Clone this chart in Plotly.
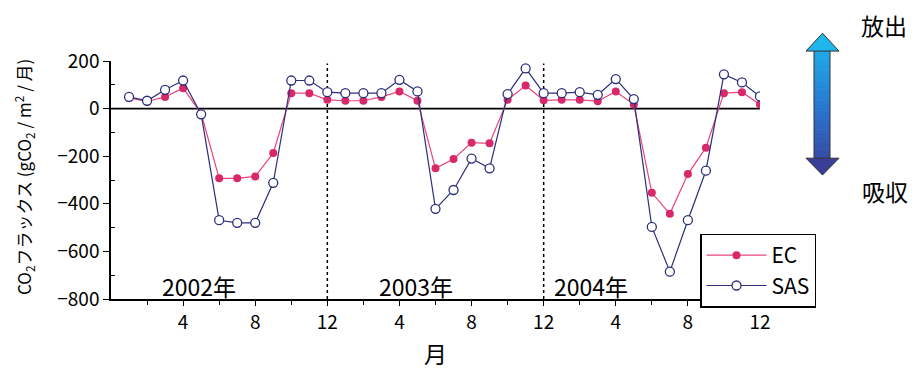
import plotly.graph_objects as go

months = list(range(1, 37))
ec = [45, 30, 49, 86, -20, -293, -293, -285, -187, 65, 65, 37,
      33, 33, 49, 72, 33, -251, -212, -143, -146, 37, 97, 35,
      37, 37, 31, 72, 17, -354, -442, -275, -164, 65, 69, 17]
sas = [49, 33, 79, 118, -24, -469, -480, -480, -312, 118, 118, 69,
       65, 65, 65, 121, 72, -421, -342, -210, -251, 61, 169, 65,
       65, 69, 58, 124, 40, -497, -685, -469, -261, 144, 110, 51]
xtick_vals = [4, 8, 12, 16, 20, 24, 28, 32, 36]
xtick_text = ["4", "8", "12", "4", "8", "12", "4", "8", "12"]
year_labels = ["2002年", "2003年", "2004年"]
year_pos = [4.9, 16.9, 26.6]
year_sep = [12, 24]

OFF = 8  # page body margin
W, H = 921 - OFF, 376 - OFF
L, R, T, B = 111, 760, 61, 301  # plot area in screen pixels

def px(x):
    return (x - L) / (R - L)

def py(y):
    return (B - y) / (B - T)

FONT = "Noto Sans CJK JP"

fig = go.Figure()
fig.add_trace(go.Scatter(
    x=months, y=ec, name="EC", mode="lines+markers",
    line=dict(color="#e8457e", width=1.2),
    marker=dict(color="#d8286a", size=8, symbol="circle"),
))
fig.add_trace(go.Scatter(
    x=months, y=sas, name="SAS", mode="lines+markers",
    line=dict(color="#2b2f7c", width=1.2),
    marker=dict(color="white", size=9, symbol="circle",
                line=dict(color="#2b2f7c", width=1.3)),
))

shapes = []
shapes.append(dict(type="line", xref="x", yref="y", x0=0, x1=36, y0=0, y1=0,
                   line=dict(color="black", width=1.8), layer="below"))
for s in year_sep:
    shapes.append(dict(type="line", xref="x", yref="y", x0=s, x1=s, y0=-800, y1=190,
                       line=dict(color="black", width=1.5, dash="dot"), layer="below"))

# gradient double arrow (decoration)
def lerp(c1, c2, t):
    return "rgb(%d,%d,%d)" % tuple(round(a + (b - a) * t) for a, b in zip(c1, c2))

top_c = (30, 185, 238)
mid_c = (40, 120, 210)
bot_c = (60, 60, 150)
def grad(t):
    if t < 0.5:
        return lerp(top_c, mid_c, t / 0.5)
    return lerp(mid_c, bot_c, (t - 0.5) / 0.5)

y_top, y_bot = 33, 176
hx0, hx1, sx0, sx1 = 806, 839, 814, 830
h_top_end, h_bot_start = 50, 160
n = 40
for i in range(n):
    y0 = h_top_end + (h_bot_start - h_top_end) * i / n
    y1 = h_top_end + (h_bot_start - h_top_end) * (i + 1) / n + 0.6
    t = (y0 - y_top) / (y_bot - y_top)
    shapes.append(dict(type="rect", xref="paper", yref="paper",
                       x0=px(sx0), x1=px(sx1), y0=py(y0), y1=py(y1),
                       fillcolor=grad(t), line=dict(width=0)))
cx = (hx0 + hx1) / 2
shapes.append(dict(type="path", xref="paper", yref="paper",
                   path="M %f %f L %f %f L %f %f Z" % (px(cx), py(y_top), px(hx1), py(h_top_end + 1), px(hx0), py(h_top_end + 1)),
                   fillcolor=grad(0.02), line=dict(color="#333", width=1)))
shapes.append(dict(type="path", xref="paper", yref="paper",
                   path="M %f %f L %f %f L %f %f Z" % (px(cx), py(y_bot), px(hx1), py(h_bot_start - 1), px(hx0), py(h_bot_start - 1)),
                   fillcolor=grad(0.98), line=dict(color="#333", width=1)))
for xx in (sx0, sx1):
    shapes.append(dict(type="line", xref="paper", yref="paper",
                       x0=px(xx), x1=px(xx), y0=py(h_top_end + 1), y1=py(h_bot_start - 1),
                       line=dict(color="#333", width=1)))

annotations = []
for lab, pos in zip(year_labels, year_pos):
    annotations.append(dict(x=pos, y=-746, xref="x", yref="y", text=lab, showarrow=False,
                            xanchor="center", yanchor="middle",
                            font=dict(family=FONT, size=23, color="black")))
annotations.append(dict(x=px(884), y=py(25), xref="paper", yref="paper", text="放出",
                        xanchor="center", yanchor="middle",
                        showarrow=False, font=dict(family=FONT, size=23, color="black")))
annotations.append(dict(x=px(885), y=py(192), xref="paper", yref="paper", text="吸収",
                        xanchor="center", yanchor="middle",
                        showarrow=False, font=dict(family=FONT, size=23, color="black")))
annotations.append(dict(x=px(24), y=py(178), xref="paper", yref="paper",
                        text="CO<sub>2</sub>フラックス (gCO<sub>2</sub> / m<sup>2</sup> / 月)",
                        xanchor="center", yanchor="middle",
                        textangle=-90, showarrow=False, font=dict(family=FONT, size=17, color="black")))

fig.update_layout(
    width=W, height=H,
    margin=dict(l=L - OFF, r=W - (R - OFF), t=T - OFF, b=H - (B - OFF), pad=0),
    paper_bgcolor="white", plot_bgcolor="white",
    font=dict(family=FONT, color="black", size=18),
    showlegend=True,
    legend=dict(x=px(700), y=py(235), xanchor="left", yanchor="top",
                bordercolor="black", borderwidth=1.5, bgcolor="white",
                font=dict(family=FONT, size=21, color="black"), tracegroupgap=0, itemwidth=60),
    shapes=shapes, annotations=annotations,
    xaxis=dict(range=[0, 36], tickvals=xtick_vals, ticktext=xtick_text,
               showgrid=False, zeroline=False, showline=True, linecolor="black", linewidth=1.5,
               ticks="outside", ticklen=5, tickcolor="black", tickwidth=1.2,
               minor=dict(tickvals=list(range(2, 36, 4)), ticks="outside", ticklen=4, tickcolor="black"),
               title=dict(text="月", font=dict(family=FONT, size=23, color="black"), standoff=14),
               tickfont=dict(family=FONT, size=19, color="black")),
    yaxis=dict(range=[-800, 200], tickvals=[-800, -600, -400, -200, 0, 200],
               ticktext=["−800", "−600", "−400", "−200", "0", "200"],
               showgrid=False, zeroline=False, showline=True, linecolor="black", linewidth=1.5,
               ticks="outside", ticklen=6, tickcolor="black", tickwidth=1.2,
               minor=dict(tickvals=[-700, -500, -300, -100, 100], ticks="inside", ticklen=4, tickcolor="black"),
               tickfont=dict(family=FONT, size=19, color="black")),
)

fig.write_html("out.html")
